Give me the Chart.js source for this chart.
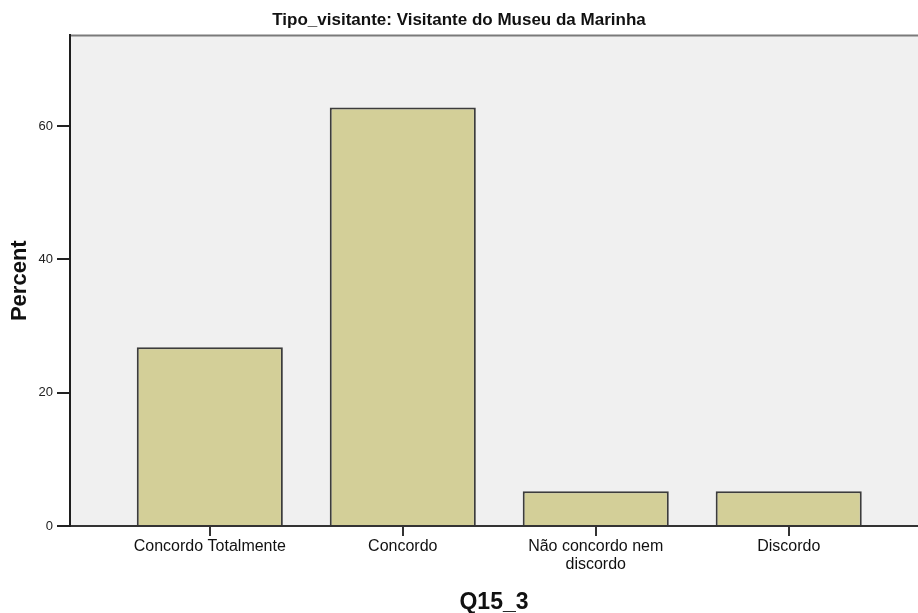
<!DOCTYPE html>
<html>
<head>
<meta charset="utf-8">
<script src="https://cdn.jsdelivr.net/npm/chart.js@4"></script>
<style>
  body { margin: 0; background: #fff; }
  #wrap { width: 918px; height: 613px; }
</style>
</head>
<body>
<div id="wrap"><canvas id="chart" width="918" height="613"></canvas></div>
<script>
const chartTitle = 'Tipo_visitante: Visitante do Museu da Marinha';
const categories = ['Concordo Totalmente', 'Concordo', ['Não concordo nem', 'discordo'], 'Discordo'];
const percentValues = [26.8, 62.8, 5.2, 5.2];
const yTickValues = [0, 20, 40, 60];
const xAxisTitle = 'Q15_3';
const yAxisTitle = 'Percent';

const fontFamily = '"Liberation Sans", Arial, sans-serif';

// plot background + top frame line
const plotFrame = {
    id: 'plotFrame',
    beforeDraw(chart) {
        const { ctx, chartArea: a } = chart;
        ctx.save();
        ctx.fillStyle = '#f0f0f0';
        ctx.fillRect(a.left, a.top, a.right - a.left, a.bottom - a.top);
        ctx.strokeStyle = '#7a7a7a';
        ctx.lineWidth = 2;
        ctx.beginPath();
        ctx.moveTo(a.left, a.top);
        ctx.lineTo(a.right, a.top);
        ctx.stroke();
        ctx.restore();
    }
};

const ctx = document.getElementById('chart').getContext('2d');
new Chart(ctx, {
    type: 'bar',
    data: {
        datasets: [{
            data: percentValues.map((v, i) => ({ x: i, y: v })),
            backgroundColor: '#d3cf98',
            borderColor: '#3c3c3c',
            borderWidth: 2,
            barPercentage: 0.757,
            categoryPercentage: 1
        }]
    },
    options: {
        responsive: false,
        animation: false,
        plugins: {
            legend: { display: false },
            tooltip: { enabled: false },
            title: {
                display: true,
                text: chartTitle,
                color: '#111',
                font: { family: fontFamily, size: 17, weight: 'bold' },
                padding: { top: 10, bottom: 5 }
            }
        },
        scales: {
            x: {
                type: 'linear',
                offset: false,
                z: 1,
                min: -0.7245,
                max: 3.67,
                afterBuildTicks: scale => {
                    scale.ticks = categories.map((c, i) => ({ value: i }));
                },
                afterFit: scale => { scale.height = 87; },
                ticks: {
                    autoSkip: false,
                    maxRotation: 0,
                    padding: 2,
                    color: '#111',
                    font: { family: fontFamily, size: 16, lineHeight: 1.1 },
                    callback: v => categories[v]
                },
                grid: {
                    offset: false,
                    drawOnChartArea: false,
                    drawTicks: true,
                    tickLength: 10,
                    tickColor: '#333',
                    lineWidth: 2
                },
                border: { color: '#333', width: 2 },
                title: {
                    display: true,
                    text: xAxisTitle,
                    color: '#111',
                    font: { family: fontFamily, size: 23, weight: 'bold' },
                    padding: { top: 0, bottom: -3 }
                }
            },
            y: {
                z: 1,
                min: 0,
                max: 73.6,
                afterBuildTicks: scale => {
                    scale.ticks = yTickValues.map(v => ({ value: v }));
                },
                afterFit: scale => { scale.width = 70; },
                ticks: {
                    padding: 4,
                    color: '#222',
                    font: { family: fontFamily, size: 13 }
                },
                grid: {
                    drawOnChartArea: false,
                    drawTicks: true,
                    tickLength: 13,
                    tickColor: '#222',
                    lineWidth: 2
                },
                border: { color: '#1e1e1e', width: 2 },
                title: {
                    display: true,
                    text: yAxisTitle,
                    color: '#111',
                    font: { family: fontFamily, size: 22, weight: 'bold' },
                    padding: { top: 7, bottom: 0 }
                }
            }
        }
    },
    plugins: [plotFrame]
});
</script>
</body>
</html>
